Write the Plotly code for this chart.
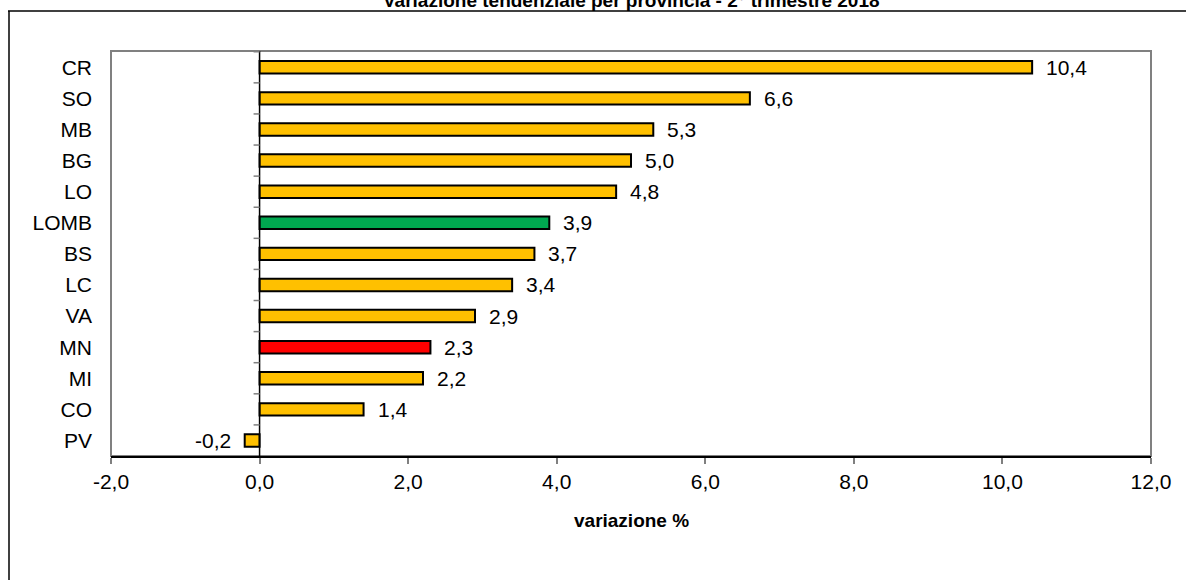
import plotly.graph_objects as go

categories = ["CR", "SO", "MB", "BG", "LO", "LOMB", "BS", "LC", "VA", "MN", "MI", "CO", "PV"]
values = [10.4, 6.6, 5.3, 5.0, 4.8, 3.9, 3.7, 3.4, 2.9, 2.3, 2.2, 1.4, -0.2]
labels = ["10,4", "6,6", "5,3", "5,0", "4,8", "3,9", "3,7", "3,4", "2,9", "2,3", "2,2", "1,4", "-0,2"]
x_ticks = [-2, 0, 2, 4, 6, 8, 10, 12]
x_tick_labels = ["-2,0", "0,0", "2,0", "4,0", "6,0", "8,0", "10,0", "12,0"]

YELLOW = "#FFC000"
GREEN = "#00A850"
RED = "#FF0000"
colors = [GREEN if c == "LOMB" else RED if c == "MN" else YELLOW for c in categories]

FONT = "Arial, Liberation Sans, sans-serif"
W, H = 1186, 580
OFF = 0  # body margin removed via post_script
# desired plot area in page pixels: x 111..1151, y 51..456
ML = 111 - OFF
MT = 51 - OFF
MR = W - (1151 - OFF)
MB = H - (456 - OFF)
PW, PH = W - ML - MR, H - MT - MB
XMIN, XMAX = -2, 12


def px_to_paper_x(px):
    return (px - OFF - ML) / PW


def px_to_paper_y(py):
    return 1 - (py - OFF - MT) / PH


fig = go.Figure()
fig.add_trace(go.Bar(
    y=categories, x=values, orientation="h", width=0.4,
    marker=dict(color=colors, line=dict(color="black", width=2)),
    hoverinfo="skip",
))

annotations = []
for c, v, t in zip(categories, values, labels):
    annotations.append(dict(
        x=v, y=c, xref="x", yref="y", text=t, showarrow=False,
        xanchor="left" if v >= 0 else "right", xshift=12 if v >= 0 else -12,
        font=dict(family=FONT, size=21, color="black"),
    ))

annotations.append(dict(
    x=0.5, y=px_to_paper_y(520), xref="paper", yref="paper",
    text="<b>variazione %</b>", showarrow=False, yanchor="middle",
    font=dict(family=FONT, size=19, color="black"),
))
annotations.append(dict(
    x=0.5, y=px_to_paper_y(0.5), xref="paper", yref="paper",
    text="<b>Variazione tendenziale per provincia - 2° trimestre 2018</b>",
    showarrow=False, yanchor="middle",
    font=dict(family=FONT, size=19, color="black"),
))

shapes = []
# plot area border (grey)
shapes.append(dict(type="rect", xref="paper", yref="paper", x0=0, x1=1, y0=0, y1=1,
                   line=dict(color="#808080", width=2), layer="below"))
# outer chart frame (top and left lines)
shapes.append(dict(type="line", xref="paper", yref="paper",
                   x0=px_to_paper_x(8), x1=px_to_paper_x(W + 20),
                   y0=px_to_paper_y(11), y1=px_to_paper_y(11),
                   line=dict(color="black", width=1.5)))
shapes.append(dict(type="line", xref="paper", yref="paper",
                   x0=px_to_paper_x(9), x1=px_to_paper_x(9),
                   y0=px_to_paper_y(11), y1=px_to_paper_y(H + 20),
                   line=dict(color="black", width=1.5)))
# category-axis line at zero
shapes.append(dict(type="line", xref="x", yref="paper", x0=0, x1=0, y0=0, y1=1,
                   line=dict(color="black", width=1.5)))
# category boundary ticks on the zero axis
for i in range(len(categories)):
    shapes.append(dict(type="line", xref="x", yref="y", xsizemode="pixel", xanchor=0,
                       x0=-6, x1=0, y0=i - 0.5, y1=i - 0.5,
                       line=dict(color="#808080", width=1.5)))

fig.update_layout(
    width=W, height=H,
    margin=dict(l=ML, r=MR, t=MT, b=MB, pad=0),
    plot_bgcolor="white", paper_bgcolor="white",
    showlegend=False,
    annotations=annotations,
    shapes=shapes,
    font=dict(family=FONT, size=21, color="black"),
    xaxis=dict(
        range=[XMIN, XMAX], tickvals=x_ticks, ticktext=x_tick_labels,
        showgrid=False, zeroline=False,
        showline=True, linecolor="black", linewidth=1.5,
        ticks="outside", ticklen=6, tickcolor="#808080", tickwidth=1.5,
        ticklabelstandoff=0,
        tickfont=dict(family=FONT, size=21, color="black"),
    ),
    yaxis=dict(
        type="category", autorange="reversed",
        categoryorder="array", categoryarray=categories,
        showgrid=False, zeroline=False, showline=False,
        ticks="", ticklabelstandoff=18,
        tickfont=dict(family=FONT, size=21, color="black"),
    ),
)

fig.write_html("out.html", config={"displayModeBar": False},
               post_script="document.body.style.margin='0px';")
